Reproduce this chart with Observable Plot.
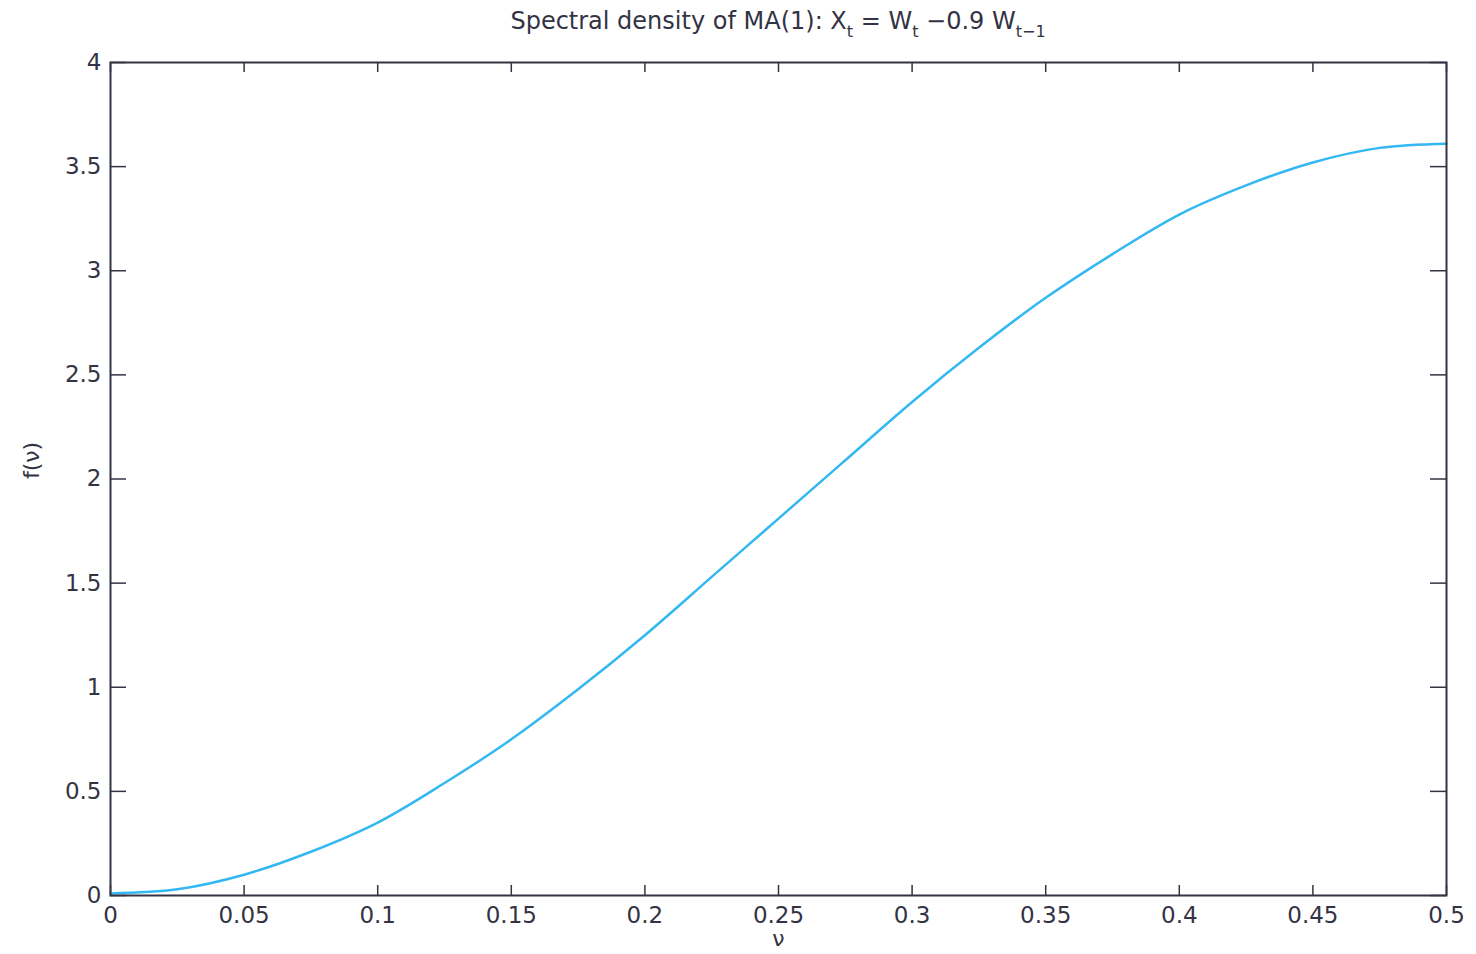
<!DOCTYPE html>
<html>
<head>
<meta charset="utf-8">
<script src="https://cdn.jsdelivr.net/npm/d3@7"></script>
<script src="https://cdn.jsdelivr.net/npm/@observablehq/plot@0.6"></script>
<style>
  html, body { margin: 0; padding: 0; background: #fff; }
  #title {
    height: 44px; box-sizing: border-box; padding: 8px 30px 0 110px;
    text-align: center; font-family: "DejaVu Sans", "Liberation Sans", Arial, sans-serif;
    font-size: 24px; color: #333344; line-height: 26px; white-space: nowrap;
  }
  #title sub { font-size: 16px; vertical-align: -8px; line-height: 0; }
  #chart svg { display: block; }
</style>
</head>
<body>
<div id="title">Spectral density of MA(1): X<sub>t</sub> = W<sub>t</sub> −0.9 W<sub>t−1</sub></div>
<div id="chart"></div>
<script>
// Frequency values (ν) and spectral density values f(ν)
const nu = [0, 0.025, 0.05, 0.075, 0.1, 0.125, 0.15, 0.175, 0.2, 0.225, 0.25,
            0.275, 0.3, 0.325, 0.35, 0.375, 0.4, 0.425, 0.45, 0.475, 0.5];
const fnu = [0.01, 0.03, 0.10, 0.21, 0.35, 0.54, 0.75, 0.99, 1.25, 1.53, 1.81,
             2.09, 2.37, 2.63, 2.87, 3.08, 3.27, 3.41, 3.52, 3.59, 3.61];
const xTicks = [0, 0.05, 0.1, 0.15, 0.2, 0.25, 0.3, 0.35, 0.4, 0.45, 0.5];
const yTicks = [0, 0.5, 1, 1.5, 2, 2.5, 3, 3.5, 4];
const xLabel = "ν";
const yLabel = "f(ν)";

const W = 1476, H = 910;
const mL = 110, mR = 30, mT = 18, mB = 59;
const pw = W - mL - mR, ph = H - mT - mB;
const ink = "#333344";
const fmt = d3.format("~g");
const font = "DejaVu Sans, Liberation Sans, Arial, sans-serif";

const data = nu.map((v, i) => ({nu: v, f: fnu[i]}));

const chart = Plot.plot({
  width: W, height: H,
  marginLeft: mL, marginRight: mR, marginTop: mT, marginBottom: mB,
  style: {fontFamily: font, fontSize: "23px", color: ink, background: "#fff"},
  x: {domain: [0, 0.5]},
  y: {domain: [0, 4]},
  marks: [
    Plot.axisX(xTicks, {tickSize: 0, tickPadding: 11, fontSize: 23, tickFormat: fmt, label: null}),
    Plot.axisY(yTicks, {tickSize: 0, tickPadding: 9, fontSize: 23, tickFormat: fmt, label: null}),
    // inward ticks on all four sides
    Plot.tickX(xTicks, {x: d => d, insetTop: ph - 10, stroke: ink, strokeWidth: 1.5}),
    Plot.tickX(xTicks, {x: d => d, insetBottom: ph - 10, stroke: ink, strokeWidth: 1.5}),
    Plot.tickY(yTicks, {y: d => d, insetRight: pw - 16, stroke: ink, strokeWidth: 1.5}),
    Plot.tickY(yTicks, {y: d => d, insetLeft: pw - 16, stroke: ink, strokeWidth: 1.5}),
    Plot.line(data, {x: "nu", y: "f", curve: "catmull-rom", stroke: "#33b8f2", strokeWidth: 2.5}),
    Plot.frame({stroke: ink, strokeWidth: 2}),
    Plot.text([xLabel], {frameAnchor: "bottom", dy: 50, fontSize: 22, fill: ink}),
    Plot.text([yLabel], {frameAnchor: "left", dx: -79, rotate: -90, fontSize: 22, fill: ink})
  ]
});
document.getElementById("chart").appendChild(chart);
</script>
</body>
</html>
